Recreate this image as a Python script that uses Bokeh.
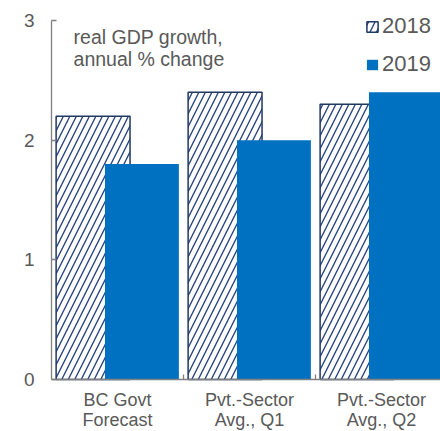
from bokeh.plotting import figure
from bokeh.models import Range1d, FixedTicker, Label, Legend, LegendItem, ColumnDataSource, Span
from bokeh.core.properties import value
from bokeh.transform import dodge
from bokeh.embed import file_html
from bokeh.resources import INLINE

categories = ["BC Govt\nForecast", "Pvt.-Sector\nAvg., Q1", "Pvt.-Sector\nAvg., Q2"]
growth_2018 = [2.2, 2.4, 2.3]
growth_2019 = [1.8, 2.0, 2.4]
series_names = ["2018", "2019"]
y_ticks = [0, 1, 2, 3]
note = "real GDP growth,\nannual % change"

FONT = "Liberation Sans"
GREY = "#595959"
AXIS = "#808080"
NAVY = "#1F3864"
HATCH = "#2A4580"
BLUE = "#0070C0"

PX = 359 / 3.0  # pixels per unit on the value axis
pos = [i + 0.5 for i in range(len(categories))]
boundaries = [i for i in range(1, len(categories))]
src = ColumnDataSource(dict(x=pos, y18=growth_2018, y19=growth_2019))
lab_src = ColumnDataSource(dict(x=pos, y=[-10.5 / PX] * len(pos), text=categories))
tick_src = ColumnDataSource(dict(x=boundaries, y0=[0] * len(boundaries),
                                 y1=[5 / PX] * len(boundaries)))

p = figure(width=440, height=431, output_backend="svg", toolbar_location=None,
           x_range=Range1d(0, 389 / 132), y_range=Range1d(-52 / PX, 3 + 20 / PX),
           x_axis_location=None,
           min_border_left=51, min_border_right=0, min_border_top=0,
           min_border_bottom=0, background_fill_color="white")
p.grid.visible = False
p.outline_line_color = None

r18 = p.vbar(x=dodge("x", -0.185, range=p.x_range), top="y18", width=0.56, source=src,
             fill_color="white", line_color=NAVY, line_width=1.5,
             hatch_pattern="/", hatch_scale=13, hatch_weight=1.4, hatch_color=HATCH)
r19 = p.vbar(x=dodge("x", 0.185, range=p.x_range), top="y19", width=0.56, source=src,
             fill_color=BLUE, line_color=None)

# value axis
ya = p.yaxis[0]
ya.bounds = (0, 3)
ya.ticker = FixedTicker(ticks=y_ticks, minor_ticks=[])
ya.major_tick_in = 5
ya.major_tick_out = 0
ya.major_tick_line_color = AXIS
ya.major_tick_line_width = 1.3
ya.axis_line_color = AXIS
ya.axis_line_width = 1.3
ya.major_label_standoff = 17
ya.major_label_text_font = FONT
ya.major_label_text_font_size = "19px"
ya.major_label_text_color = GREY

# category axis: baseline, boundary ticks and two-line labels
p.add_layout(Span(location=0, dimension="width", line_color=AXIS, line_width=1.3))
p.segment(x0="x", y0="y0", x1="x", y1="y1", source=tick_src, line_color=AXIS, line_width=1.3)
p.text(x="x", y="y", text="text", source=lab_src, text_align="center", text_baseline="top",
       text_font=value(FONT), text_font_size="18px", text_color=GREY, text_line_height=1.0)

p.add_layout(Label(x=0.167, y=2.952, text=note, text_baseline="top",
                   text_font=FONT, text_font_size="19.5px", text_color=GREY,
                   text_line_height=0.98))

legend = Legend(items=[LegendItem(label=series_names[0], renderers=[r18]),
                       LegendItem(label=series_names[1], renderers=[r19])],
                location=(314, 354), padding=0, margin=0, spacing=12,
                glyph_width=14, glyph_height=13, label_standoff=3,
                label_text_font=FONT, label_text_font_size="22px",
                label_text_color=GREY, border_line_color=None,
                background_fill_alpha=0)
p.add_layout(legend)

open("out.html", "w").write(file_html(p, INLINE))
